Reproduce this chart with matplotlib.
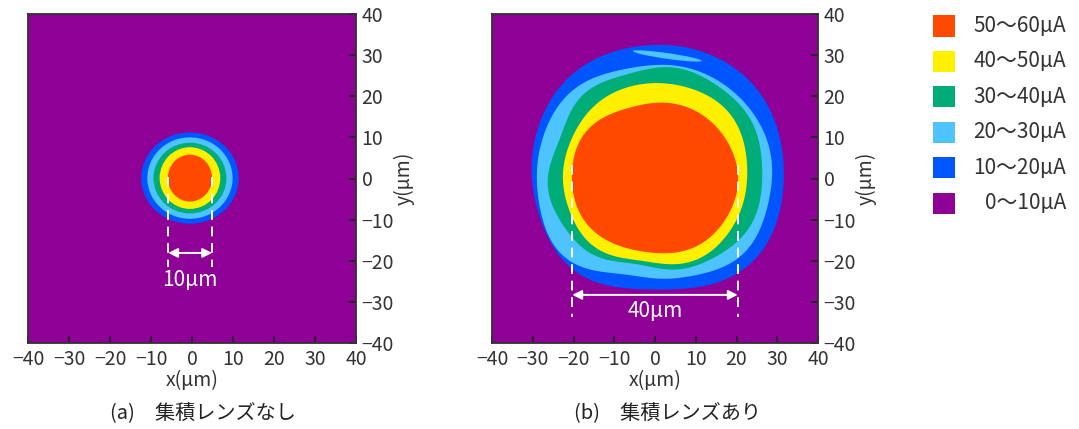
import numpy as np
import matplotlib.pyplot as plt
from matplotlib.patches import Ellipse, Rectangle

plt.rcParams['font.family'] = ['Noto Sans CJK JP', 'DejaVu Sans']

W, H = 1079, 429

# current bands, from high to low
labels = ['50～60μA', '40～50μA', '30～40μA', '20～30μA', '10～20μA', '0～10μA']
colors = ['#ff4800', '#fff000', '#00ac78', '#4dc4ff', '#0055ff', '#8f0096']
ticks = [-40, -30, -20, -10, 0, 10, 20, 30, 40]

# (a) no lens: nearly circular bands, (rx, ry) in um, inner to outer
a_center = (-0.5, 0.1)
a_radii = [(5.4, 5.7), (7.4, 7.5), (8.9, 8.6), (10.4, 9.9), (11.9, 11.1)]

# (b) with lens: band outer edges, radius in um every 22.5 deg from +x, inner to outer
b_angles = np.arange(16) * 22.5
b_orange = [20.4, 20.0, 19.5, 19.0, 18.4, 18.4, 19.8, 20.6, 20.4, 20.3, 19.5, 18.3, 18.1, 19.0, 19.7, 20.1]
b_yellow = [22.6, 23.5, 24.2, 23.6, 23.2, 23.2, 23.0, 22.6, 22.6, 22.4, 22.4, 20.9, 20.5, 22.0, 22.4, 22.4]
b_green = [26.3, 27.2, 27.4, 27.4, 26.9, 26.4, 26.8, 25.3, 26.3, 25.5, 24.4, 22.0, 21.7, 23.3, 24.7, 26.2]
b_lblue = [28.7, 29.0, 28.6, 28.2, 27.6, 28.0, 29.5, 29.3, 29.0, 29.4, 28.8, 25.0, 24.3, 25.5, 28.0, 28.5]
b_blue = [31.6, 32.4, 33.2, 33.0, 32.5, 32.5, 32.3, 31.2, 30.2, 29.8, 30.0, 28.3, 27.0, 28.5, 31.0, 31.7]
b_bands = [b_orange, b_yellow, b_green, b_lblue, b_blue]
# light blue streak inside the top of the blue band: x, y, width, height, angle
b_streak = (3.0, 29.8, 17.0, 1.4, -8.0)

# spot widths marked with dashed lines
a_marks = (-5.8, 4.9)
b_marks = (-20.3, 20.3)


def closed_curve(radii, n=360):
    # smooth periodic curve through the sampled radii
    r = np.asarray(radii, float)
    spec = np.fft.rfft(r)
    if len(r) % 2 == 0:
        spec[-1] *= 0.5
    rr = np.fft.irfft(spec, n) * n / len(r)
    t = np.linspace(0, 2 * np.pi, n, endpoint=False)
    return rr * np.cos(t), rr * np.sin(t)


def style_axes(ax):
    ax.set_facecolor(colors[-1])
    ax.set_xlim(-40, 40)
    ax.set_ylim(-40, 40)
    ax.set_xticks(ticks)
    ax.set_yticks(ticks)
    ax.tick_params(direction='in', bottom=True, top=False, left=False, right=True,
                   labelleft=False, labelright=True, length=5, width=1.2,
                   labelsize=14, labelcolor='#333333', color='#222222', pad=4)
    for s in ax.spines.values():
        s.set_linewidth(1.3)
        s.set_color('#333333')
    ax.set_xlabel('x(μm)', fontsize=14, color='#333333', labelpad=0)
    ax.yaxis.set_label_position('right')
    ax.set_ylabel('y(μm)', fontsize=14, color='#333333', labelpad=0)


def mark_width(ax, xs, y_top, y_bot, y_arrow, y_text, text):
    for x in xs:
        ax.plot([x, x], [y_top, y_bot], color='white', lw=1.4, ls=(0, (5, 3.5)))
    ax.annotate('', xy=(xs[0], y_arrow), xytext=(xs[1], y_arrow),
                arrowprops=dict(arrowstyle='<|-|>', color='white', lw=1.4,
                                mutation_scale=14, shrinkA=0, shrinkB=0))
    ax.text((xs[0] + xs[1]) / 2, y_text, text, color='white', fontsize=15,
            ha='center', va='center')


fig = plt.figure(figsize=(W / 100, H / 100), dpi=100)
ax_a = fig.add_axes([28 / W, 1 - 343 / H, 328 / W, 329 / H])
ax_b = fig.add_axes([492 / W, 1 - 343 / H, 326 / W, 329 / H])

# (a)
for (rx, ry), c in reversed(list(zip(a_radii, colors))):
    ax_a.add_patch(Ellipse(a_center, 2 * rx, 2 * ry, color=c, lw=0))
style_axes(ax_a)
mark_width(ax_a, a_marks, 0.4, -21.5, -18.1, -24.7, '10μm')

# (b)
for radii, c in reversed(list(zip(b_bands, colors))):
    x, y = closed_curve(radii)
    ax_b.fill(x, y, color=c, lw=0)
sx, sy, sw, sh, sa = b_streak
ax_b.add_patch(Ellipse((sx, sy), sw, sh, angle=sa, color=colors[3], lw=0))
style_axes(ax_b)
mark_width(ax_b, b_marks, 3.3, -33.7, -28.3, -32.2, '40μm')

# captions
fig.text(203 / W, 1 - 414 / H, '(a)　集積レンズなし', fontsize=14.5, color='#222222',
         ha='center', va='center')
fig.text(667 / W, 1 - 414 / H, '(b)　集積レンズあり', fontsize=14.5, color='#222222',
         ha='center', va='center')

# legend
for i, (lab, c) in enumerate(zip(labels, colors)):
    yc = 26 + i * 35.4
    fig.patches.append(Rectangle((933 / W, 1 - (yc + 10.5) / H), 22 / W, 21 / H,
                                 transform=fig.transFigure, color=c, lw=0))
    fig.text(1066 / W, 1 - yc / H, lab, fontsize=15, color='#333333',
             ha='right', va='center')

fig.savefig('out.png', dpi=100)
